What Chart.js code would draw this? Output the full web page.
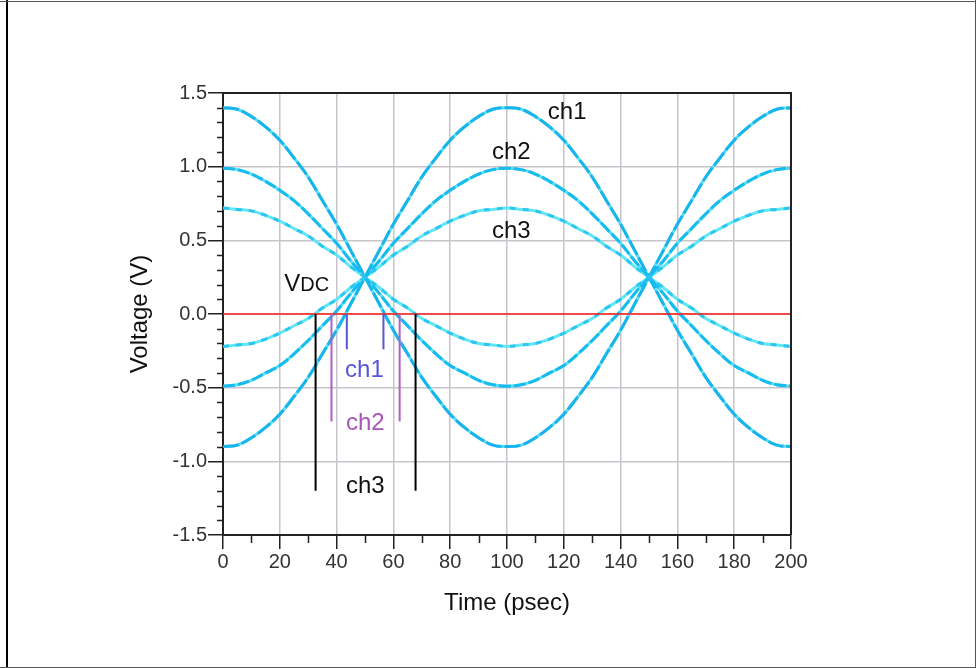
<!DOCTYPE html>
<html><head><meta charset="utf-8">
<script src="https://cdn.jsdelivr.net/npm/chart.js@4.4.1/dist/chart.umd.min.js"></script>
<style>html,body{margin:0;padding:0;background:#fff;overflow:hidden}canvas{display:block}</style>
</head><body>
<canvas id="c" width="976" height="668"></canvas>
<script>
// ---- data ----
const timePs = [0,5,10,15,20,25,30,35,40,45,50,55,60,65,70,75,80,85,90,95,100,105,110,115,120,125,130,135,140,145,150,155,160,165,170,175,180,185,190,195,200];
const ch1Falling = [1.40,1.39,1.34,1.27,1.18,1.06,0.93,0.77,0.61,0.43,0.25,0.07,-0.11,-0.27,-0.43,-0.56,-0.68,-0.77,-0.84,-0.89,-0.90,-0.89,-0.84,-0.77,-0.68,-0.56,-0.43,-0.27,-0.11,0.07,0.25,0.43,0.61,0.77,0.93,1.06,1.18,1.27,1.34,1.39,1.40];
const ch1Rising  = [-0.90,-0.89,-0.84,-0.77,-0.68,-0.56,-0.43,-0.27,-0.11,0.07,0.25,0.43,0.61,0.77,0.93,1.06,1.18,1.27,1.34,1.39,1.40,1.39,1.34,1.27,1.18,1.06,0.93,0.77,0.61,0.43,0.25,0.07,-0.11,-0.27,-0.43,-0.56,-0.68,-0.77,-0.84,-0.89,-0.90];
const ch2Falling = [0.99,0.98,0.95,0.90,0.84,0.77,0.68,0.58,0.48,0.36,0.25,0.14,0.02,-0.08,-0.18,-0.27,-0.35,-0.40,-0.45,-0.48,-0.49,-0.48,-0.45,-0.40,-0.35,-0.27,-0.18,-0.08,0.02,0.14,0.25,0.36,0.48,0.58,0.68,0.77,0.84,0.90,0.95,0.98,0.99];
const ch2Rising  = [-0.49,-0.48,-0.45,-0.40,-0.35,-0.27,-0.18,-0.08,0.02,0.14,0.25,0.36,0.48,0.58,0.68,0.77,0.84,0.90,0.95,0.98,0.99,0.98,0.95,0.90,0.84,0.77,0.68,0.58,0.48,0.36,0.25,0.14,0.02,-0.08,-0.18,-0.27,-0.35,-0.40,-0.45,-0.48,-0.49];
const ch3Falling = [0.72,0.71,0.70,0.67,0.63,0.58,0.53,0.46,0.40,0.32,0.25,0.18,0.10,0.04,-0.03,-0.08,-0.13,-0.17,-0.20,-0.21,-0.22,-0.21,-0.20,-0.17,-0.13,-0.08,-0.03,0.04,0.10,0.18,0.25,0.32,0.40,0.46,0.53,0.58,0.63,0.67,0.70,0.71,0.72];
const ch3Rising  = [-0.22,-0.21,-0.20,-0.17,-0.13,-0.08,-0.03,0.04,0.10,0.18,0.25,0.32,0.40,0.46,0.53,0.58,0.63,0.67,0.70,0.71,0.72,0.71,0.70,0.67,0.63,0.58,0.53,0.46,0.40,0.32,0.25,0.18,0.10,0.04,-0.03,-0.08,-0.13,-0.17,-0.20,-0.21,-0.22];
const vdcLineX = [0,200];
const vdcLineY = [0,0];
// crossing markers: [left time, right time], bottom voltage
const ch1MarkerTimes = [43.6,56.5]; const ch1MarkerBottom = -0.24;
const ch2MarkerTimes = [38.2,62.2]; const ch2MarkerBottom = -0.73;
const ch3MarkerTimes = [32.6,67.8]; const ch3MarkerBottom = -1.20;
const xTickValues = [0,20,40,60,80,100,120,140,160,180,200];
const yTickValues = [-1.5,-1.0,-0.5,0.0,0.5,1.0,1.5];
const labelTexts = ['ch1','ch2','ch3','ch1','ch2','ch3'];
const labelTimes = [121.2,101.5,101.5,49.8,50.1,50.1];
const labelVolts = [1.37,1.10,0.56,-0.38,-0.74,-1.17];
const vdcLabelTime = 21.6, vdcLabelVolt = 0.158;

// ---- styles ----
const FONT = "'Liberation Sans', Arial, sans-serif";
const labelColors = ['#111','#111','#111','#5656d8','#a855b8','#111'];
const pts = (xs, ys) => xs.map((x,i)=>({x:x, y:ys[i]}));
const curve = (arr, base, dark, dash) => [
  {data: pts(timePs, arr), borderColor: base, borderWidth: 3, pointRadius: 0, tension: 0.4, order: 3},
  {data: pts(timePs, arr), borderColor: dark, borderWidth: 3, borderDash: dash, pointRadius: 0, tension: 0.4, order: 2}
];
const marker = (times, bottom, color) => times.map(t => ({data: pts([t,t],[0,bottom]), borderColor: color, borderWidth: 2, pointRadius: 0, order: 0}));

const datasets = [
  ...curve(ch3Falling,'#62e6f4','#2cc6f0',[6,7]), ...curve(ch3Rising,'#62e6f4','#2cc6f0',[6,7]),
  ...curve(ch2Falling,'#58def4','#17bcee',[12,3]), ...curve(ch2Rising,'#58def4','#17bcee',[12,3]),
  ...curve(ch1Falling,'#5adcf4','#18b4ec',[16,3]), ...curve(ch1Rising,'#5adcf4','#18b4ec',[16,3]),
  {data: pts(vdcLineX, vdcLineY), borderColor:'#ff1a1a', borderWidth:1.5, pointRadius:0, order:1},
  ...marker(ch1MarkerTimes, ch1MarkerBottom, '#5656d8'),
  ...marker(ch2MarkerTimes, ch2MarkerBottom, '#b060c4'),
  ...marker(ch3MarkerTimes, ch3MarkerBottom, '#000')
];

const decor = {
  id:'decor',
  beforeDraw(chart){
    const c = chart.ctx; c.save(); c.fillStyle='#fff'; c.fillRect(0,0,chart.width,chart.height);
    c.restore();
  },
  afterDatasetsDraw(chart){
    const c = chart.ctx, xs = chart.scales.x, ys = chart.scales.y;
    c.save();
    c.textAlign='center'; c.textBaseline='middle';
    c.font = '24px ' + FONT;
    labelTexts.forEach((t,i)=>{ c.fillStyle=labelColors[i]; c.fillText(t, xs.getPixelForValue(labelTimes[i]), ys.getPixelForValue(labelVolts[i])); });
    c.textAlign='left'; c.textBaseline='alphabetic'; c.fillStyle='#111';
    let px = xs.getPixelForValue(vdcLabelTime), py = ys.getPixelForValue(vdcLabelVolt);
    c.font='24px '+FONT; c.fillText('V',px,py); px += c.measureText('V').width;
    c.font='20px '+FONT; c.fillText('DC',px,py);
    c.restore();
  },
  afterDraw(chart){
    const c = chart.ctx, xs = chart.scales.x, ys = chart.scales.y, a = chart.chartArea;
    c.save();
    c.strokeStyle='#222'; c.lineWidth=1.5;
    c.beginPath();
    for(let k=-14;k<=14;k++){ if(k%5===0) continue; const y=Math.round(ys.getPixelForValue(k/10))+0.5; c.moveTo(a.left-6,y); c.lineTo(a.left,y); }
    for(let k=10;k<200;k+=20){ const x=Math.round(xs.getPixelForValue(k))+0.5; c.moveTo(x,a.bottom); c.lineTo(x,a.bottom+8); }
    c.stroke();
    c.lineWidth=2; c.beginPath();
    c.moveTo(a.left,a.top); c.lineTo(a.right,a.top); c.lineTo(a.right,a.bottom); c.stroke();
    c.lineWidth=2; c.strokeStyle='#000'; c.beginPath(); c.moveTo(7,0); c.lineTo(7,668); c.stroke();
    c.lineWidth=1; c.strokeStyle='#555'; c.beginPath(); c.moveTo(0,667.5); c.lineTo(976,667.5); c.moveTo(0,1.5); c.lineTo(976,1.5); c.moveTo(975.5,0); c.lineTo(975.5,668); c.stroke();
    c.restore();
  }
};

const gridColor = (ctx, ends) => (ctx.tick && ends.includes(ctx.tick.value)) ? 'rgba(0,0,0,0)' : '#c9c4cc';

new Chart(document.getElementById('c'), {
  type:'line',
  data:{datasets},
  options:{
    responsive:false, animation:false, devicePixelRatio:1,
    layout:{padding:{left:0, top:93, right:185, bottom:0}},
    plugins:{legend:{display:false}, tooltip:{enabled:false}},
    scales:{
      x:{type:'linear', min:0, max:200,
        afterBuildTicks:s=>{ s.ticks = xTickValues.map(v=>({value:v})); },
        ticks:{font:{family:FONT,size:20}, color:'#333', padding:1, maxRotation:0, autoSkip:false, callback:v=>String(v)},
        grid:{color:ctx=>gridColor(ctx,[0,200]), lineWidth:1.5, tickLength:14, tickColor:'#222', tickWidth:1.5},
        border:{color:'#222', width:2},
        title:{display:true, text:'Time (psec)', font:{family:FONT,size:24}, color:'#111', padding:{top:0,bottom:50}},
        afterFit:s=>{ s.height = 133; }
      },
      y:{type:'linear', min:-1.5, max:1.5,
        afterBuildTicks:s=>{ s.ticks = yTickValues.map(v=>({value:v})); },
        ticks:{font:{family:FONT,size:20}, color:'#333', padding:1, callback:v=>Number(v).toFixed(1)},
        grid:{color:ctx=>gridColor(ctx,[-1.5,1.5]), lineWidth:1.5, tickLength:15, tickColor:'#222', tickWidth:1.5},
        border:{color:'#222', width:2},
        title:{display:true, text:'Voltage (V)', font:{family:FONT,size:24}, color:'#111', padding:{top:126,bottom:0}},
        afterFit:s=>{ s.width = 223; }
      }
    }
  },
  plugins:[decor]
});
</script>
</body></html>
